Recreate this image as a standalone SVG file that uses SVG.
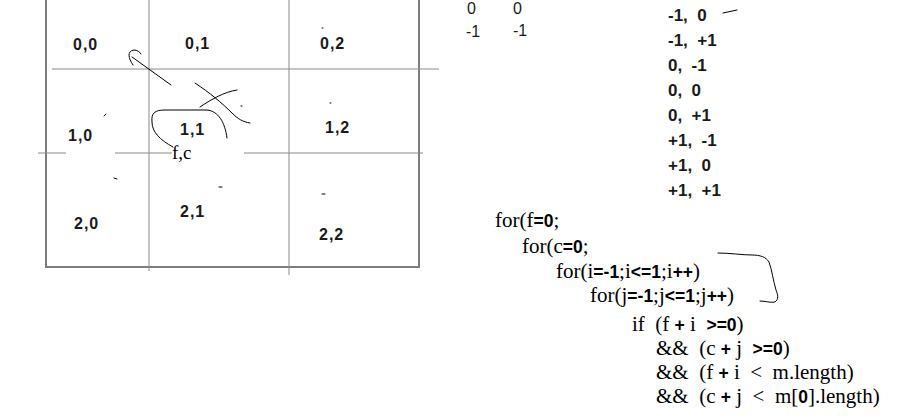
<svg xmlns="http://www.w3.org/2000/svg" width="912" height="419" viewBox="0 0 912 419">
<style>
.outer{stroke:#7d7d7d;stroke-width:2;fill:none}
.inner{stroke:#8a8a8a;stroke-width:1;fill:none}
.ink{stroke:#000;stroke-width:1;fill:none;stroke-linecap:round;stroke-linejoin:round}
.cell{font-family:"Liberation Sans",Arial,sans-serif;font-size:16px;font-weight:bold;letter-spacing:1px;fill:#1a1a1a}
.lbl{font-family:"Liberation Serif","Times New Roman",serif;font-size:19px;fill:#000}
.num{font-family:"Liberation Sans",Arial,sans-serif;font-size:16px;fill:#1a1a1a}
.off{font-family:"Liberation Sans",Arial,sans-serif;font-size:17px;font-weight:bold;fill:#1a1a1a;white-space:pre}
.code{font-family:"Liberation Serif","Times New Roman",serif;font-size:21px;fill:#000;white-space:pre}
.n{font-family:"Liberation Sans",Arial,sans-serif;font-size:17.5px;font-weight:bold}
</style>
<rect width="912" height="419" fill="#fff"/>
<g id="grid">
<path class="outer" d="M46,0 V267 H419 V0"/>
<path class="inner" d="M149,0 V271 M289,0 V275 M52,69 H439 M38,153 H66 M115,153 H172 M244,153 H423"/>
</g>
<g id="cells">
<text class="cell" x="73" y="50">0,0</text>
<text class="cell" x="185" y="49">0,1</text>
<text class="cell" x="320" y="49">0,2</text>
<text class="cell" x="68" y="141">1,0</text>
<text class="cell" x="180" y="135">1,1</text>
<text class="cell" x="325" y="133">1,2</text>
<text class="cell" x="74" y="229">2,0</text>
<text class="cell" x="180" y="217">2,1</text>
<text class="cell" x="319" y="240">2,2</text>
<text class="lbl" x="172" y="159">f,c</text>
</g>
<g id="sketch">
<path class="ink" d="M171,85 L132,57 M133,65 C128,58 127,51 134,50 C137,50 140,52 141,54"/>
<path class="ink" d="M195,83 C210,93 222,103 232,113 C238,119 243,122 250,123 M200,107 C212,99 224,92 237,90"/>
<path class="ink" d="M173,147 C160,140 152,132 152,122 C151,113 155,110 165,110 L207,110 C218,111 225,122 227,138"/>
<path class="ink" d="M104,116 L106,114 M114,178 L117,179 M219,187 L222,187 M322,194 L325,194 M322,28 L323,28 M330,103 L331,103 M241,106 L242,106"/>
<path class="ink" d="M723,13 C728,12 732,11 737,10"/>
<path class="ink" d="M718,253 C730,253 742,255 752,255 C760,255 766,257 769,262 C772,270 773,280 776,290 C778,295 779,299 775,302 C770,303 766,301 760,301"/>
</g>
<g id="offsets">
<text class="num" x="467" y="14">0</text>
<text class="num" x="513" y="14">0</text>
<text class="num" x="466" y="37">-1</text>
<text class="num" x="513" y="36">-1</text>
<text class="off" x="668" y="21">-1,  0</text>
<text class="off" x="668" y="46">-1,  +1</text>
<text class="off" x="668" y="71">0,  -1</text>
<text class="off" x="668" y="96">0,  0</text>
<text class="off" x="668" y="121">0,  +1</text>
<text class="off" x="668" y="146">+1,  -1</text>
<text class="off" x="668" y="171">+1,  0</text>
<text class="off" x="668" y="196">+1,  +1</text>
</g>
<g id="code">
<text class="code" x="495" y="227">for(f<tspan class="n">=0</tspan>;</text>
<text class="code" x="522" y="253">for(c<tspan class="n">=0</tspan>;</text>
<text class="code" x="556" y="278">for(i<tspan class="n">=-1</tspan>;i<tspan class="n">&lt;=1</tspan>;i<tspan class="n">++</tspan>)</text>
<text class="code" x="590" y="302">for(j<tspan class="n">=-1</tspan>;j<tspan class="n">&lt;=1</tspan>;j<tspan class="n">++</tspan>)</text>
<text class="code" x="632" y="331">if  (f <tspan class="n">+</tspan> i  <tspan class="n">&gt;=0</tspan>)</text>
<text class="code" x="656" y="355">&amp;&amp;  (c <tspan class="n">+</tspan> j  <tspan class="n">&gt;=0</tspan>)</text>
<text class="code" x="656" y="379">&amp;&amp;  (f <tspan class="n">+</tspan> i  &lt;  m.length)</text>
<text class="code" x="656" y="403">&amp;&amp;  (c <tspan class="n">+</tspan> j  &lt;  m[<tspan class="n">0</tspan>].length)</text>
</g>
</svg>
